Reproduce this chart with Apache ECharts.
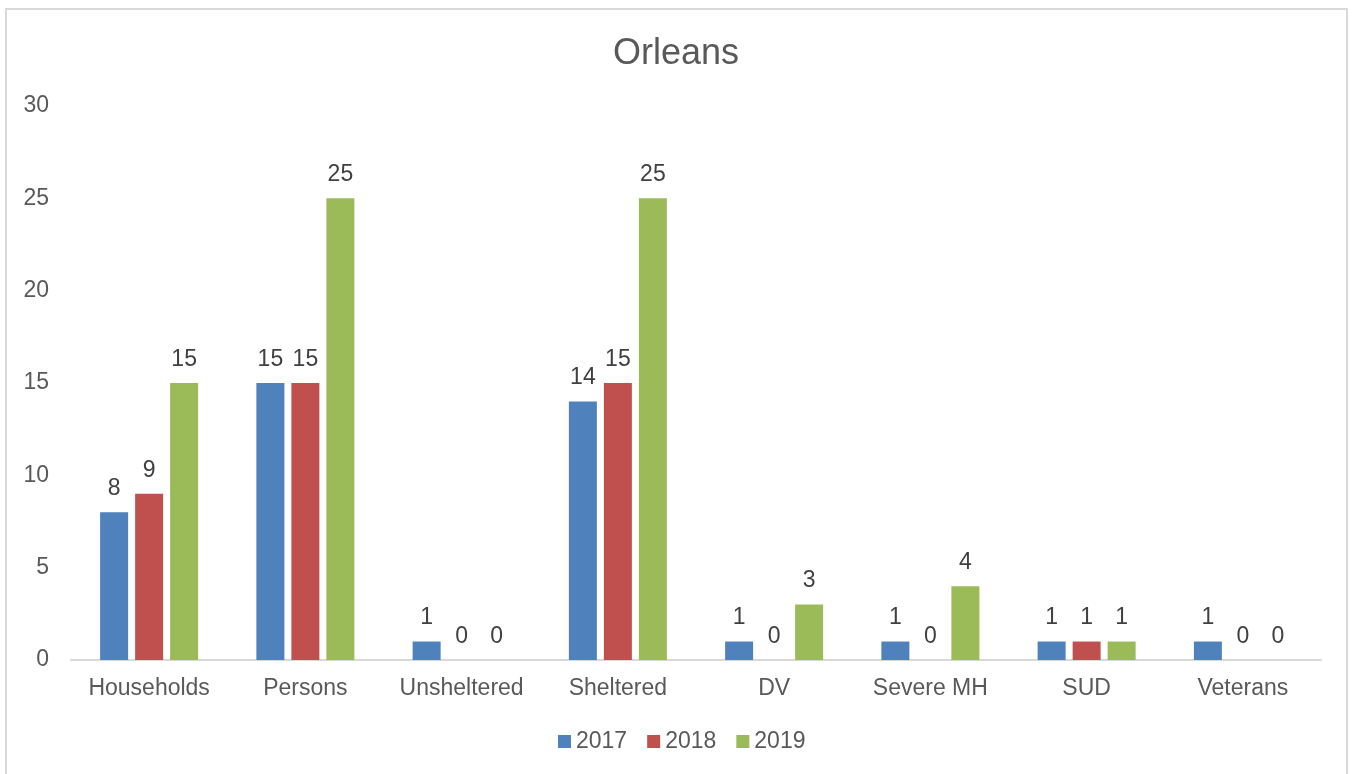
<!DOCTYPE html>
<html><head><meta charset="utf-8">
<script src="https://cdn.jsdelivr.net/npm/echarts@6/dist/echarts.min.js"></script>
<style>html,body{margin:0;padding:0;background:#fff}#c{width:1352px;height:774px}</style>
</head><body><div id="c"></div>
<script>
const categories = ["Households","Persons","Unsheltered","Sheltered","DV","Severe MH","SUD","Veterans"];
const years = ["2017","2018","2019"];
const v2017 = [8,15,1,14,1,1,1,1];
const v2018 = [9,15,0,15,0,0,1,0];
const v2019 = [15,25,0,25,3,4,1,0];
const yTicks = [0,5,10,15,20,25,30];
const colors = ["#4F81BD","#C0504D","#9BBB59"];
const font = "Liberation Sans, Arial, sans-serif";
const chart = echarts.init(document.getElementById('c'));
const seriesData = [v2017, v2018, v2019];
chart.setOption({
  animation:false,
  title:{text:"Orleans",left:'center',top:31,textStyle:{fontFamily:font,fontSize:36,fontWeight:'normal',color:'#595959'}},
  graphic:[{type:'rect',shape:{x:6,y:9,width:1341,height:800},style:{fill:'none',stroke:'#d9d9d9',lineWidth:2},silent:true}],
  legend:{bottom:21,left:558,itemWidth:13,itemHeight:13,itemGap:20,icon:'rect',padding:0,
    textStyle:{fontFamily:font,fontSize:23,color:'#595959'},data:years},
  grid:{left:71,right:31,top:106,bottom:114,containLabel:false},
  xAxis:{type:'category',data:categories,axisLine:{lineStyle:{color:'#d9d9d9',width:2}},axisTick:{show:false},
    axisLabel:{interval:0,fontFamily:font,fontSize:23,color:'#595959',margin:17}},
  yAxis:{type:'value',min:0,max:30,interval:5,axisLine:{show:false},axisTick:{show:false},splitLine:{show:false},
    axisLabel:{fontFamily:font,fontSize:23,color:'#595959',margin:22,formatter:v=>yTicks.includes(v)?String(v):''}},
  series: years.map((y,i)=>({name:y,type:'bar',data:seriesData[i],barWidth:28,barGap:'25%',
    itemStyle:{color:colors[i]},
    label:{show:true,position:'top',distance:12,fontFamily:font,fontSize:23,color:'#404040'}}))
});
</script></body></html>
